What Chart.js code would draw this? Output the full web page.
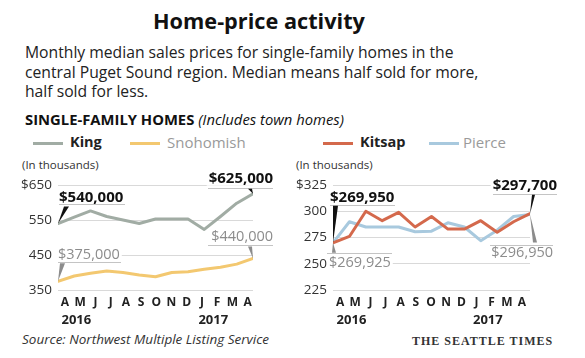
<!DOCTYPE html>
<html><head><meta charset="utf-8">
<script src="https://cdn.jsdelivr.net/npm/chart.js@4.4.0/dist/chart.umd.min.js"></script>
<style>
html,body{margin:0;padding:0;background:#fff;}
body{width:585px;height:358px;overflow:hidden;position:relative;font-family:'Open Sans',sans-serif;color:#222;}
.t{position:absolute;white-space:nowrap;}
canvas{position:absolute;left:0;top:0;}
.sw{position:absolute;height:3px;width:30px;}
</style></head><body>
<div class="t" style="left:153px;top:8px;font-size:21.7px;line-height:26px;font-weight:700;color:#111;">Home-price activity</div>
<div class="t" style="left:25px;top:42px;font-size:15.7px;line-height:20px;">Monthly median sales prices for single-family homes in the</div>
<div class="t" style="left:25px;top:62px;font-size:15.7px;line-height:20px;">central Puget Sound region. Median means half sold for more,</div>
<div class="t" style="left:25px;top:81px;font-size:15.7px;line-height:20px;">half sold for less.</div>
<div class="t" style="left:25px;top:110px;font-size:14.8px;line-height:18px;color:#111;"><b>SINGLE-FAMILY HOMES</b> <i>(Includes town homes)</i></div>

<div class="sw" style="left:33px;top:142px;background:#a1aca4;"></div>
<div class="t" style="left:70px;top:133px;font-size:14.5px;line-height:18px;font-weight:700;color:#222;">King</div>
<div class="sw" style="left:130px;top:142px;background:#f3c870;"></div>
<div class="t" style="left:167px;top:133px;font-size:15px;line-height:18px;color:#9a9a9a;">Snohomish</div>
<div class="sw" style="left:323px;top:142px;background:#d4694c;"></div>
<div class="t" style="left:360px;top:133px;font-size:14.5px;line-height:18px;font-weight:700;color:#222;">Kitsap</div>
<div class="sw" style="left:429px;top:142px;background:#a8c9de;"></div>
<div class="t" style="left:463px;top:133px;font-size:15px;line-height:18px;color:#9a9a9a;">Pierce</div>

<div class="t" style="left:22px;top:158px;font-size:11.5px;line-height:14px;color:#333;">(In thousands)</div>
<div class="t" style="left:296px;top:158px;font-size:11.5px;line-height:14px;color:#333;">(In thousands)</div>

<div class="t" style="left:22px;top:331px;font-size:13.5px;line-height:17px;font-style:italic;color:#333;">Source: Northwest Multiple Listing Service</div>
<div class="t" style="left:412px;top:334px;font-size:12px;line-height:15px;font-family:'Liberation Serif','DejaVu Serif',serif;font-weight:700;letter-spacing:1px;color:#333;">THE SEATTLE TIMES</div>

<canvas id="c1" width="585" height="358"></canvas>
<canvas id="c2" width="585" height="358"></canvas>
<script>
// ---- data ----
const months = ['A','M','J','J','A','S','O','N','D','J','F','M','A'];
const years = ['2016','2017'];
const yearIdx = [0, 9];
const king = [540,558,576,560,550,540,553,553,553,523,560,598,625];
const snohomish = [375,390,398,404,400,393,388,400,402,409,415,424,440];
const kitsap = [269.95,276,300,291,299,285,295,283,283,291,280,290,297.7];
const pierce = [269.925,290,285,285,285,280.5,281,289,285,272,282,295,296.95];
const leftTicks = [350,450,550,650];
const rightTicks = [225,250,275,300,325];

const toXY = arr => arr.map((v,i)=>({x:i,y:v}));

const annotPlugin = {
  id:'annot',
  afterDatasetsDraw(chart, args, opts){
    const ctx = chart.ctx;
    (opts.items||[]).forEach(a=>{
      const pt = chart.getDatasetMeta(a.ds).data[a.idx];
      const px = pt.x, py = pt.y;
      ctx.save();
      ctx.font = a.font; ctx.textBaseline='middle'; ctx.textAlign = a.align;
      const w = ctx.measureText(a.text).width;
      const lx = a.align==='right' ? px+a.dx-w : px+a.dx;
      ctx.fillStyle='#fff'; ctx.fillRect(lx-2, py+a.dy-7, w+4, 14);
      ctx.fillStyle=a.color; ctx.fillText(a.text, px+a.dx, py+a.dy);
      ctx.strokeStyle='#c4c4c4'; ctx.lineWidth=1;
      ctx.beginPath(); ctx.moveTo(px+a.rule[0], Math.round(py+a.rule[2])+0.5); ctx.lineTo(px+a.rule[1], Math.round(py+a.rule[2])+0.5); ctx.stroke();
      ctx.fillStyle=a.wedgeColor;
      ctx.beginPath(); ctx.moveTo(px,py); a.wedge.forEach(([dx,dy])=>ctx.lineTo(px+dx,py+dy)); ctx.closePath(); ctx.fill();
      ctx.restore();
    });
  },
  afterDraw(chart){
    const ctx = chart.ctx, s = chart.scales.x2;
    ctx.save();
    ctx.font = "700 13px 'Open Sans'"; ctx.fillStyle='#222'; ctx.textBaseline='middle'; ctx.textAlign='left';
    years.forEach((y,i)=>ctx.fillText(y, s.getPixelForValue(yearIdx[i]) - 3.5, 320));
    ctx.restore();
  }
};

function makeChart(id, series, colors, yMin, yMax, ticks, axisW, padRight, x2min, x2max, items){
  return new Chart(document.getElementById(id), {
    type:'line',
    data:{ datasets: series.map((s,i)=>({data:toXY(s), borderColor:colors[i], borderWidth:3, pointRadius:0, tension:0, borderJoinStyle:'round', borderCapStyle:'round', fill:false, xAxisID:'x', yAxisID:'y'})) },
    options:{
      responsive:false, animation:false, devicePixelRatio:1,
      layout:{padding:{left:0,right:padRight,top:185,bottom:0}},
      plugins:{legend:{display:false}, tooltip:{enabled:false}, annot:{items}},
      scales:{
        x:{type:'linear', min:0, max:12, display:false},
        x2:{type:'linear', position:'bottom', min:x2min, max:x2max,
            afterBuildTicks:s=>{s.ticks = months.map((m,i)=>({value:i}));},
            afterFit:s=>{s.height = 68;},
            grid:{display:false}, border:{display:false},
            ticks:{autoSkip:false, maxRotation:0, padding:-3, color:'#222', font:{family:'Open Sans', size:12, weight:'700'}, callback:(v,i)=>months[i]}},
        y:{type:'linear', min:yMin, max:yMax,
            afterBuildTicks:s=>{s.ticks = ticks.map(v=>({value:v}));},
            afterFit:s=>{s.width = axisW;},
            grid:{color:'#d9d9d9', lineWidth:1, drawTicks:false}, border:{display:false},
            ticks:{padding:6, color:'#333', font:{family:'Open Sans', size:13.5}, callback:v=> v===yMax ? '$'+v : String(v)}}
      }
    },
    plugins:[annotPlugin]
  });
}

const B = "700 15px 'Open Sans'", N = "400 14.5px 'Open Sans'";
makeChart('c1', [king, snohomish], ['#a1aca4','#f3c870'], 350, 650, leftTicks, 58, 332, -0.46, 12.36, [
  {ds:0, idx:0, text:'$540,000', font:B, color:'#111', align:'left', dx:1, dy:-26, rule:[1,67,-19.5], wedge:[[6,-17],[11,-17]], wedgeColor:'#111'},
  {ds:0, idx:12, text:'$625,000', font:B, color:'#111', align:'right', dx:20, dy:-15, rule:[-45,20,-6], wedge:[[-5,-5],[-1,-5]], wedgeColor:'#111'},
  {ds:1, idx:0, text:'$375,000', font:N, color:'#8c8c8c', align:'left', dx:0, dy:-26, rule:[0,63,-19], wedge:[[2,-18],[7,-18]], wedgeColor:'#8c8c8c'},
  {ds:1, idx:12, text:'$440,000', font:N, color:'#8c8c8c', align:'right', dx:20, dy:-21.5, rule:[-45,20,-14], wedge:[[-5,-12],[-1,-12]], wedgeColor:'#8c8c8c'}
]);
makeChart('c2', [kitsap, pierce], ['#d4694c','#a8c9de'], 225, 325, rightTicks, 333, 55, -0.47, 12.53, [
  {ds:0, idx:0, text:'$269,950', font:B, color:'#111', align:'left', dx:-3, dy:-45, rule:[-3,62,-38], wedge:[[0,-37],[5,-37]], wedgeColor:'#111'},
  {ds:1, idx:0, text:'$269,925', font:N, color:'#8c8c8c', align:'left', dx:-4, dy:20.5, rule:[-6,59,10], wedge:[[-1,10],[3,10]], wedgeColor:'#8c8c8c'},
  {ds:0, idx:12, text:'$297,700', font:B, color:'#111', align:'right', dx:27, dy:-27.5, rule:[-37,27,-20], wedge:[[2,-19],[5,-19]], wedgeColor:'#111'},
  {ds:1, idx:12, text:'$296,950', font:N, color:'#8c8c8c', align:'right', dx:23, dy:38.5, rule:[-40,23,30.5], wedge:[[3,28],[7,28]], wedgeColor:'#8c8c8c'}
]);
</script>
</body></html>
